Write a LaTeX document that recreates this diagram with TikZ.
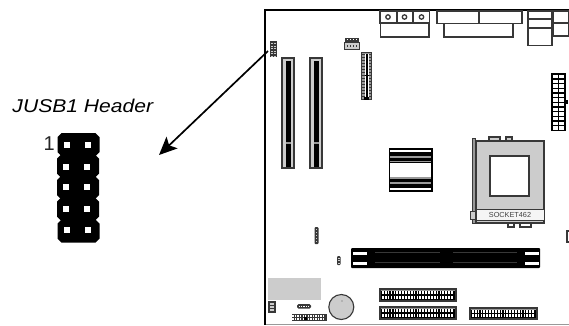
\documentclass[tikz,border=0pt]{standalone}
\usepackage{fontspec}
\setmainfont{Liberation Sans}
\usetikzlibrary{arrows.meta}
\definecolor{dk}{gray}{0.22}
\definecolor{md}{gray}{0.6}
\definecolor{lt}{gray}{0.8}
\tikzset{
  lbl/.style={inner sep=0pt,outer sep=0pt,anchor=base west}
}
\newcommand{\pinrow}[5]{% x0 dx n y size
  \foreach \i in {1,...,#3}{\fill[white] ({#1+(\i-1)*#2-#5/2},{#4-#5/2}) rectangle ++(#5,#5);}}
\begin{document}
\begin{tikzpicture}[x=1pt,y=-1pt]
\useasboundingbox (0,0) rectangle (569,325);
\fill[white] (0,0) rectangle (569,325);
% left header
\foreach \yy/\xo in {133/0.5,154.5/0,176/0,197.5/0,219.5/0.5}{
  \fill[black] ({57+\xo+4},\yy) -- ({95+\xo},\yy) -- ({99+\xo},{\yy+4}) -- ({99+\xo},{\yy+19}) -- ({95+\xo},{\yy+23}) -- ({57+\xo+4},{\yy+23}) -- ({57+\xo},{\yy+19}) -- ({57+\xo},{\yy+4}) -- cycle;
}
\foreach \yy/\xo in {144.5/0.5,166.5/0,187/0,208.5/0,230/0.5}{
  \fill[white] ({63+\xo},{\yy-3}) rectangle ++(6,6);
  \fill[white] ({84+\xo},{\yy-3}) rectangle ++(6,6);
}
\node[lbl] (title) at (12.5,112) {\fontsize{18.5}{20}\selectfont\scalebox{1.14}[1]{\itshape JUSB1 Header}};
\node[lbl,text=black!85] (one) at (43.5,150) {\fontsize{20}{22}\selectfont 1};
% board frame
\draw[md,line width=1pt] (265,324) -- (569,324);
\draw[black,line width=2pt] (569,10) -- (264.5,10) -- (264.5,325);
% rear IO
\begin{scope}[line width=1.2pt,draw=dk]
\draw (380,11) rectangle (397,23);
\draw (397,11) rectangle (413,23);
\draw (413,11) rectangle (429.5,23);
\draw (380.5,23) rectangle (429,37);
\foreach \cx in {388,404.5,421.5}{\draw[line width=1.3pt] (\cx,17) circle (2.2);}
\draw (437,11) rectangle (479,23.5);
\draw (479,11) rectangle (522,23.5);
\draw (444,23.5) rectangle (513,37);
\draw (528,11) rectangle (552,19);
\draw (528,19) rectangle (552,28);
\draw (528,28) rectangle (552,45.5);
\draw (553.5,11) rectangle (569,23);
\draw (553.5,23) rectangle (569,36);
\end{scope}
% JUSB1 small header on board
\fill[dk] (270,41) rectangle (276.5,57);
\foreach \yy in {43,45.5,48,50.5,53,55.5}{\fill[lt] (271,\yy) rectangle ++(1.6,1.2); \fill[lt] (274,\yy) rectangle ++(1.6,1.2);}
\coordinate (usb) at (268,51);
\coordinate (tip) at (159,155);
% PCI slots
\foreach \px in {282,310}{
  \fill[lt,draw=dk,line width=1.1pt] (\px,58) rectangle ({\px+12},168);
  \fill[black] ({\px+3.5},61) rectangle ({\px+8.5},167);
  \fill[md] ({\px+3.5},141.5) rectangle ({\px+8.5},144);
}
% small connector
\fill[lt,draw=dk,line width=1pt] (344.5,42) rectangle (359.5,49.5);
\fill[dk] (345,38) rectangle (359,41.5);
\pinrow{347.5}{3}{4}{39.5}{1.5}
\foreach \i in {0,1,2,3}{\fill[dk] ({346.5+\i*3},44.8) rectangle ++(1.8,1.8);}
% vertical connector
\fill[md,draw=dk,line width=1.1pt] (361.5,52.5) rectangle (371.5,99.5);
\foreach \i in {0,...,14}{
  \fill[dk] (362,{54+\i*3}) rectangle (364.5,{55+\i*3});
  \fill[dk] (368.5,{54+\i*3}) rectangle (371,{55+\i*3});
}
\fill[white] (364.5,54) rectangle (368.5,98);
\fill[black] (365.5,54) rectangle (367.5,98);
\fill[black] (364.5,74.5) rectangle (368.5,76);
\fill[black] (364,97) rectangle (369,99.5);
% north bridge
\fill[black] (388.5,148) rectangle (432.5,192);
\fill[white] (390,149.5) rectangle (431,152);
\fill[md] (390,156) rectangle (431,157.5);
\fill[md] (390,160.5) rectangle (431,162);
\fill[white] (390,163) rectangle (431,176.5);
\fill[md] (390,177) rectangle (431,178.5);
\fill[md] (390,182) rectangle (431,183.5);
\fill[white] (390,187.5) rectangle (431,190);
% ATX
\fill[black] (551,73) rectangle (566,131);
\fill[black] (566,100) rectangle (568,104);
\foreach \r in {0,...,11}{
  \fill[white] (552.5,{75+\r*4.65}) rectangle ++(5,3.4);
  \fill[white] (559,{75+\r*4.65}) rectangle ++(5,3.4);
}
% socket
\fill[lt,draw=dk,line width=1.1pt] (476,141) rectangle (544,223);
\fill[white,draw=dk,line width=1.1pt] (490,156) rectangle (529,196);
\fill[white!96!black] (476.5,209.5) rectangle (543.5,220);
\draw[dk,line width=1pt] (476,209) -- (544,209);
\draw[dk,line width=1pt] (476,220.5) -- (544,220.5);
\node[inner sep=0pt,text=black!75] (sock) at (510,215) {\fontsize{7.3}{8}\selectfont SOCKET462};
\fill[md,draw=dk,line width=1pt] (472.5,138) rectangle (475.5,223);
\fill[lt,draw=dk,line width=0.8pt] (470.5,211) rectangle (475,219);
\draw[dk,line width=1.1pt,fill=lt] (489,137) rectangle (500,141);
\draw[dk,line width=1.1pt,fill=lt] (506,137) rectangle (512,141);
\draw[dk,line width=1.1pt,fill=white] (508,223) rectangle (514,227);
\draw[dk,line width=1.1pt,fill=white] (520,223) rectangle (531,227);
\draw[dk,line width=1.1pt] (569,231) -- (567,231) -- (567,242) -- (569,242);
% small vertical headers
\fill[dk,rounded corners=1pt] (314.5,227) rectangle (318.5,244);
\foreach \yy in {229,232,235,238,241}{\fill[lt] (315.7,\yy) rectangle ++(1.6,1.3);}
\fill[dk,rounded corners=1pt] (337,256) rectangle (340.5,265);
\foreach \yy in {257.5,260,262.5}{\fill[lt] (338,\yy) rectangle ++(1.5,1.2);}
% DIMM
\fill[black,rounded corners=1pt] (351,248) rectangle (540,268);
\foreach \yy in {251.5,261.5}{
  \fill[white] (352.5,\yy) rectangle (367,{\yy+3.5});
  \fill[white] (525,\yy) rectangle (539,{\yy+3.5});
  \fill[dk] (375,\yy) rectangle (440,{\yy+0.9});
  \fill[dk] (453,\yy) rectangle (517,{\yy+0.9});
}
% bottom left
\fill[lt] (268,278) rectangle (321,300);
\fill[dk] (267.5,301) rectangle (275.5,312.5);
\fill[lt] (269.5,303) rectangle (273.5,310.5);
\foreach \yy in {305,307.5}{\fill[dk] (269.5,\yy) rectangle (273.5,{\yy+0.8});}
\fill[dk,rounded corners=1.5pt] (297,304) rectangle (311,308.5);
\pinrow{299.5}{2.3}{5}{306.2}{1.3}
\fill[dk] (291.5,314) rectangle (327,321);
\foreach \yy in {316,319}{\pinrow{293}{2.55}{13}{\yy}{1.4}}
\fill[black] (304,316.5) rectangle (307,320);
% battery
\fill[lt,draw=dk,line width=1.1pt] (341.3,307) circle (12.5);
\fill[md] (342,301) circle (0.8);
% IDE
\foreach \xa/\xb/\ya/\yb/\n in {380/456/289/301/25,380/456/307/319/25,470/537/308/319/22}{
  \fill[md,draw=dk,line width=1.1pt] (\xa,\ya) rectangle (\xb,\yb);
  \fill[black] ({\xa+1},{\ya+1.5}) rectangle ({\xb-1},{\yb-1.5});
  \pgfmathsetmacro{\dxx}{(\xb-\xa-4)/\n}
  \foreach \i in {1,...,\n}{
    \fill[white] ({\xa+2+(\i-1)*\dxx},{\ya+2.2}) rectangle ++({\dxx*0.6},2.4);
    \fill[white] ({\xa+2+(\i-1)*\dxx},{\yb-4.6}) rectangle ++({\dxx*0.6},2.4);
  }
}
% arrow
\draw[black,line width=1.7pt,-{Stealth[length=18pt,width=16pt,inset=4pt]}] (usb) -- (tip);
\end{tikzpicture}
\end{document}
